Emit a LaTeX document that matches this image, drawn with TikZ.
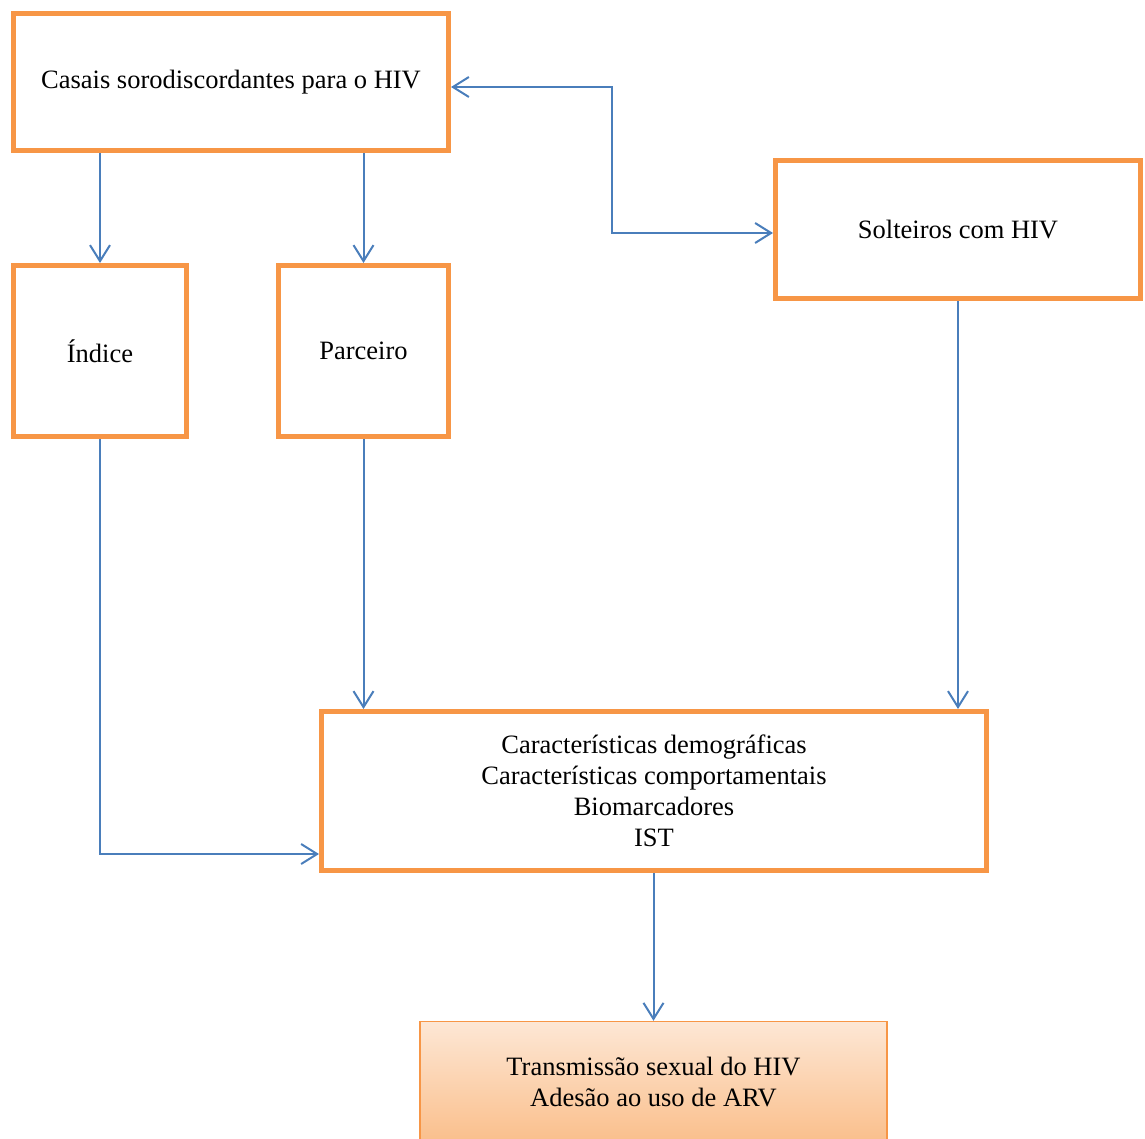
\documentclass[tikz,border=0pt]{standalone}
\usepackage{fontspec}
\setmainfont{Liberation Serif}
\usetikzlibrary{arrows.meta}

\definecolor{boxorange}{HTML}{F79646}
\definecolor{flowblue}{HTML}{4A7EBB}
\definecolor{fadetop}{HTML}{FDE7D5}
\definecolor{fadebottom}{HTML}{FABF8C}

\tikzset{
  box/.style={draw=boxorange, line width=5pt, fill=white, align=center,
    inner sep=0pt, font=\fontsize{26.5}{31}\selectfont},
  outcome/.style={box, line width=1.5pt, top color=fadetop, bottom color=fadebottom},
  flow/.style={draw=flowblue, line width=2pt,
    -{Straight Barb[length=16pt,width=20pt]}},
}

\begin{document}
\begin{tikzpicture}[x=1pt,y=-1pt]
					\useasboundingbox (0,0) rectangle (1145,1138);

					% caixas
					\node [box, minimum width=435pt, minimum height=137pt] (casais) at (231,82) {Casais sorodiscordantes para o HIV};
					\node [box, minimum width=173pt, minimum height=171pt] (indice) at (100,351) {Índice};
					\node [box, minimum width=170pt, minimum height=171pt] (parceiro) at (363.5,351) {Parceiro};
					\node [box, minimum width=365pt, minimum height=138pt] (solteiros) at (958,229.5) {Solteiros com HIV};
					\node [box, minimum width=665pt, minimum height=159pt] (caract) at (654,791) {Características demográficas\\Características comportamentais\\Biomarcadores\\IST};
					\node [outcome, minimum width=467pt, minimum height=120pt] (transm) at (653.5,1081.5) {Transmissão sexual do HIV\\Adesão ao uso de ARV};

					\coordinate (knee) at (612,233);

					% setas
					\draw [flow] (casais.south -| indice) -- (indice);
					\draw [flow] (casais.south -| parceiro) -- (parceiro);
					\draw [flow, {Straight Barb[length=16pt,width=20pt]}-{Straight Barb[length=16pt,width=20pt]}] ([yshift=-5pt]casais.east) -| (knee) -- (knee -| solteiros.west);
					\draw [flow] (indice.south) |- ([yshift=-63pt]caract.west);
					\draw [flow] (parceiro.south) -- (parceiro.south |- caract.north);
					\draw [flow] (solteiros.south) -- (solteiros.south |- caract.north);
					\draw [flow] (caract.south -| transm) -- (transm);
				\end{tikzpicture}
\end{document}
